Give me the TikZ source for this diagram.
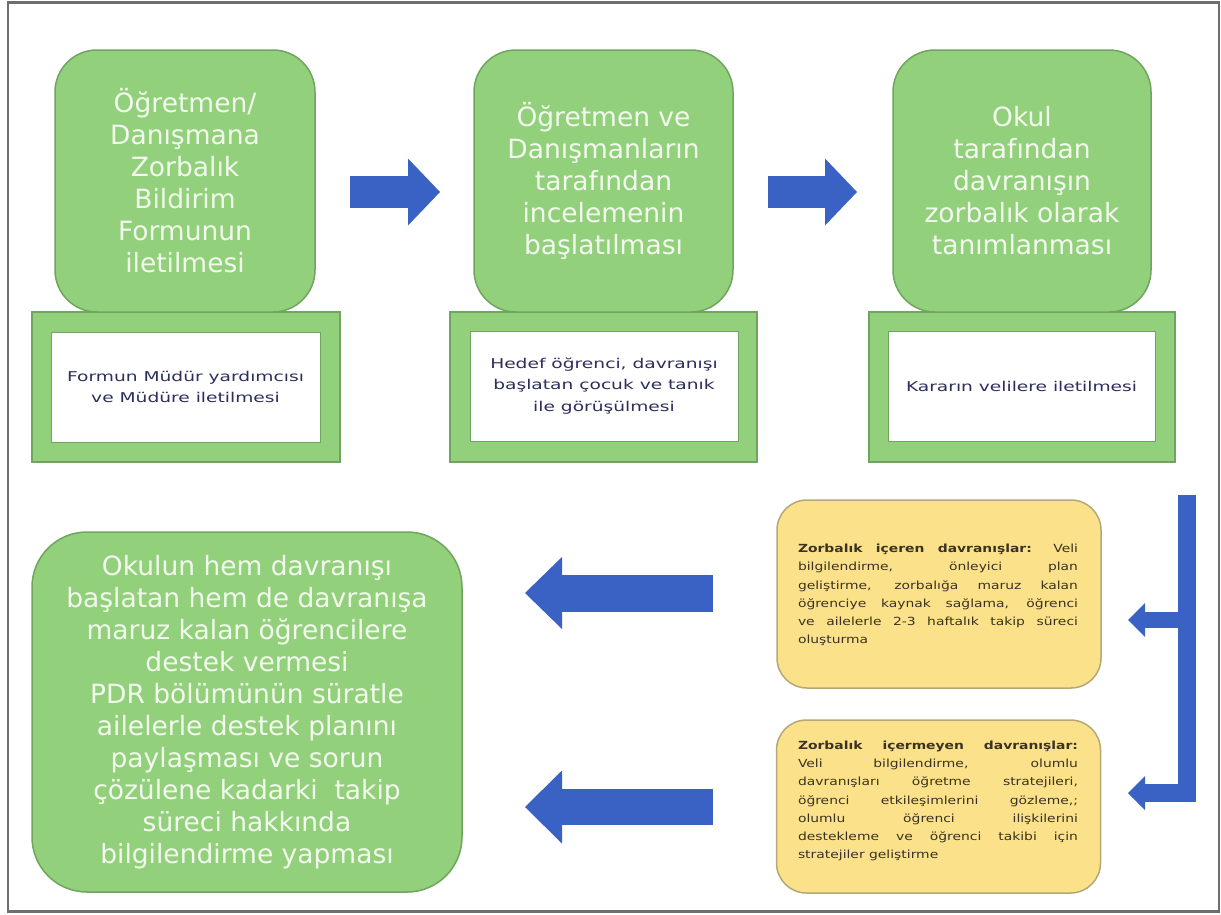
\documentclass[tikz,border=0pt]{standalone}
\usepackage{fontspec}
\setmainfont{DejaVu Sans}
\newfontfamily\widefont{DejaVu Sans}[FakeStretch=1.38]
\newfontfamily\yellowfont{DejaVu Sans}[FakeStretch=1.24]
\usetikzlibrary{arrows.meta}
\definecolor{gfill}{HTML}{93D07C}
\definecolor{gdraw}{HTML}{6FA55E}
\definecolor{gtext}{HTML}{F2FAEE}
\definecolor{yfill}{HTML}{FBE28A}
\definecolor{ydraw}{HTML}{B5A878}
\definecolor{ytext}{HTML}{3A3222}
\definecolor{navy}{HTML}{2C2E5C}
\definecolor{arrowblue}{HTML}{3A62C4}
\definecolor{framegray}{HTML}{6E6E6E}
\hyphenpenalty=10000
\exhyphenpenalty=10000
\begin{document}
\begin{tikzpicture}[x=1pt,y=-1pt,
  greenbox/.style={draw=gdraw, line width=1.5pt, fill=gfill, rounded corners=42pt,
    text=gtext, align=center, font=\fontsize{26.5}{32}\selectfont, inner sep=0pt},
  outerframe/.style={draw=gdraw, line width=1.2pt, fill=gfill, inner sep=0pt, minimum height=150pt},
  innerwhite/.style={draw=gdraw, line width=0.8pt, fill=white, inner sep=0pt, minimum height=110pt,
    text=navy, align=center, font=\widefont\fontsize{13.5}{21.5}\selectfont},
  yellowbox/.style={draw=ydraw, line width=1.5pt, fill=yfill, rounded corners=30pt, inner sep=0pt,
    minimum width=324pt, text=ytext},
  yellowtext/.style={text width=280pt, align=justify, inner sep=0pt, text=ytext,
    font=\yellowfont\fontsize{11.2}{18.2}\selectfont},
  blockarrow/.style={draw=arrowblue, line width=#1}
]
\useasboundingbox (0,0) rectangle (1221,914);
\fill[white] (0,0) rectangle (1221,914);
\draw[framegray, line width=2.5pt] (8,2.5) rectangle (1219,911.5);

% frames under the top boxes
\node[outerframe, minimum width=308pt] (f1) at (186,387) {};
\node[innerwhite, minimum width=269pt] (w1) at (185.5,387) {Formun Müdür yardımcısı\\ve Müdüre iletilmesi};
\node[outerframe, minimum width=307pt] (f2) at (603.5,387) {};
\node[innerwhite, minimum width=268pt] (w2) at (604,386) {Hedef öğrenci, davranışı\\başlatan çocuk ve tanık\\ile görüşülmesi};
\node[outerframe, minimum width=306pt] (f3) at (1022,387) {};
\node[innerwhite, minimum width=267pt] (w3) at (1021.5,386) {Kararın velilere iletilmesi};

% top green boxes
\node[greenbox, minimum width=260pt, minimum height=262pt] (b1) at (185,181)
  {Öğretmen/\\Danışmana\\Zorbalık\\Bildirim\\Formunun\\iletilmesi};
\node[greenbox, minimum width=259pt, minimum height=262pt] (b2) at (603.5,181)
  {Öğretmen ve\\Danışmanların\\tarafından\\incelemenin\\başlatılması};
\node[greenbox, minimum width=258pt, minimum height=262pt] (b3) at (1022,181)
  {Okul\\tarafından\\davranışın\\zorbalık olarak\\tanımlanması};

% bottom green box
\node[greenbox, rounded corners=55pt, minimum width=430pt, minimum height=360pt] (b4) at (247,712)
  {Okulun hem davranışı\\başlatan hem de davranışa\\maruz kalan öğrencilere\\destek vermesi\\PDR bölümünün süratle\\ailelerle destek planını\\paylaşması ve sorun\\çözülene kadarki\ \ takip\\süreci hakkında\\bilgilendirme yapması};

% yellow boxes
\node[yellowbox, minimum height=188pt] (y1) at (939,594) {};
\node[yellowtext] (t1) at (938,595)
  {\textbf{Zorbalık içeren davranışlar:} Veli\linebreak
   bilgilendirme, önleyici plan\linebreak
   geliştirme, zorbalığa maruz kalan\linebreak
   öğrenciye kaynak sağlama, öğrenci\linebreak
   ve ailelerle 2-3 haftalık takip süreci\linebreak
   oluşturma};
\node[yellowbox, minimum height=173pt] (y2) at (938.5,806.5) {};
\node[yellowtext] (t2) at (938,801)
  {\textbf{Zorbalık içermeyen davranışlar:}\linebreak
   Veli bilgilendirme, olumlu\linebreak
   davranışları öğretme stratejileri,\linebreak
   öğrenci etkileşimlerini gözleme,;\linebreak
   olumlu öğrenci ilişkilerini\linebreak
   destekleme ve öğrenci takibi için\linebreak
   stratejiler geliştirme};

% block arrows
\coordinate (a1s) at (350,192);
\coordinate (a1e) at (440,192);
\coordinate (a2s) at (768,192);
\coordinate (a2e) at (857,192);
\coordinate (a3s) at (713,593);
\coordinate (a3e) at (525,593);
\coordinate (a4s) at (713,807);
\coordinate (a4e) at (525,807);
\draw[blockarrow=32pt, -{Triangle[length=32pt,width=67pt,line width=0pt]}] (a1s) -- (a1e);
\draw[blockarrow=32pt, -{Triangle[length=32pt,width=67pt,line width=0pt]}] (a2s) -- (a2e);
\draw[blockarrow=37pt, -{Triangle[length=37pt,width=72pt,line width=0pt]}] (a3s) -- (a3e);
\draw[blockarrow=36pt, -{Triangle[length=37pt,width=73pt,line width=0pt]}] (a4s) -- (a4e);

% bracket arrows
\coordinate (brtop) at (1186.5,495);
\coordinate (brlow) at (1128,793);
\coordinate (brmid) at (1186.5,620);
\coordinate (brmidend) at (1128,620);
\draw[blockarrow=18pt, miter limit=10, -{Triangle[length=17pt,width=34pt,line width=0pt]}] (brtop) |- (brlow);
\draw[blockarrow=16pt, -{Triangle[length=17pt,width=34pt,line width=0pt]}] (brmid) -- (brmidend);
\end{tikzpicture}
\end{document}
